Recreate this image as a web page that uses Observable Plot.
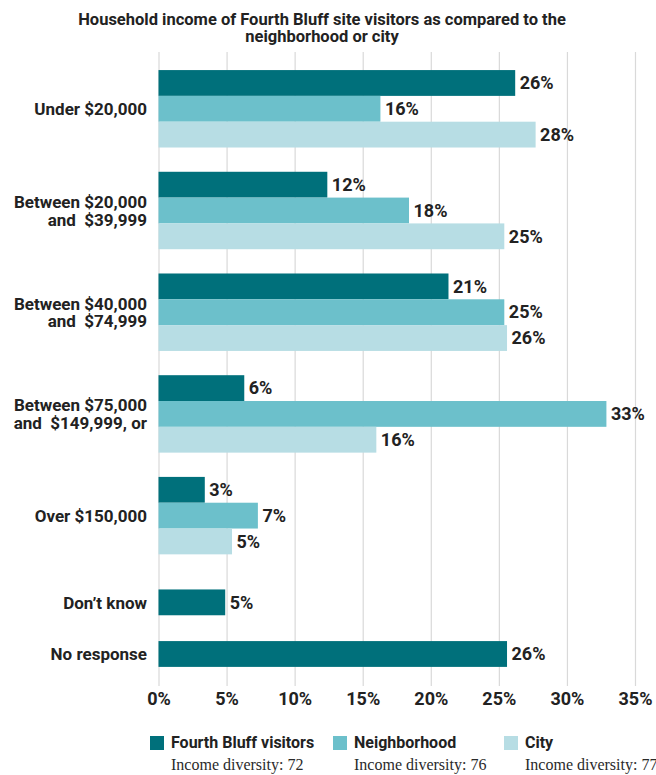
<!DOCTYPE html>
<html><head><meta charset="utf-8">
<script src="https://cdn.jsdelivr.net/npm/d3@7"></script>
<script src="https://cdn.jsdelivr.net/npm/@observablehq/plot@0.6"></script>
<style>
html,body{margin:0;padding:0;background:#fff;overflow:hidden;}
body{width:656px;height:775px;position:relative;font-family:Roboto, sans-serif;color:#222;}
#title{box-sizing:border-box;height:46px;padding:11px 12px 0 0;text-align:center;font-weight:700;font-size:16.5px;line-height:17px;color:#222;}
#chart svg{display:block;}
#legend{position:relative;height:55px;}
.item{position:absolute;top:16px;}
.sw{position:absolute;left:0;top:0;width:14px;height:14px;}
.lab{position:absolute;left:21px;top:-3px;white-space:nowrap;font-weight:700;font-size:16px;line-height:20px;color:#222;}
.sub{position:absolute;left:21px;top:19px;white-space:nowrap;font-family:"Liberation Serif",serif;font-size:16px;line-height:20px;color:#2a2a2a;}
</style></head><body>
<div id="title">Household income of Fourth Bluff site visitors as compared to the<br>neighborhood or city</div>
<div id="chart"></div>
<div id="legend"></div>
<script>
const categories = [
  "Under $20,000",
  "Between $20,000\nand  $39,999",
  "Between $40,000\nand  $74,999",
  "Between $75,000\nand  $149,999, or",
  "Over $150,000",
  "Don\u2019t know",
  "No response"
];
const seriesNames = ["Fourth Bluff visitors", "Neighborhood", "City"];
const visitors     = [26.2, 12.4, 21.3, 6.3, 3.4, 4.9, 25.6];
const neighborhood = [16.3, 18.4, 25.4, 32.9, 7.3, null, null];
const city         = [27.7, 25.4, 25.6, 16.0, 5.4, null, null];
const incomeDiversity = [72, 76, 77];
const xTicks = [0, 5, 10, 15, 20, 25, 30, 35];
const colors = ["#00707b", "#6cc0cb", "#b7dde4"];

const seriesValues = [visitors, neighborhood, city];
const rows = [], groups = [];
let pos = 0, prevN = 0;
categories.forEach((c, i) => {
  const present = seriesNames.map((s, k) => ({series: s, value: seriesValues[k][i]})).filter(d => d.value != null);
  const n = present.length;
  if (i > 0) pos += prevN > n ? 1.36 : (n === 1 ? 1.0 : 0.94);
  const start = pos;
  present.forEach(d => { rows.push({category: c, series: d.series, value: d.value, y1: pos, y2: pos + 1}); pos += 1; });
  groups.push({category: c, y: (start + pos) / 2});
  prevN = n;
});
const total = pos;

const plot = Plot.plot({
  width: 656, height: 674,
  marginTop: 6, marginBottom: 34, marginLeft: 158.5, marginRight: 21,
  style: {fontFamily: "Roboto", fontSize: "18px", fontWeight: 700, color: "#222", background: "#fff"},
  x: {domain: [0, 35], label: null},
  y: {domain: [-0.70, total + 0.74], reverse: true, axis: null},
  color: {domain: seriesNames, range: colors},
  marks: [
    Plot.gridX(xTicks, {stroke: "#d9d9d9", strokeOpacity: 1, strokeWidth: 1.2}),
    Plot.axisX(xTicks, {tickFormat: d => d + "%", tickSize: 0, tickPadding: 6, fontSize: 18, fontWeight: 700, fill: "#222", label: null}),
    Plot.rect(rows, {x1: 0, x2: "value", y1: "y1", y2: "y2", fill: "series"}),
    Plot.text(rows, {x: "value", y: d => (d.y1 + d.y2) / 2, text: d => Math.round(d.value) + "%", dx: 4, textAnchor: "start", fontWeight: 700, fontSize: 18, fill: "#222"}),
    Plot.text(groups, {x: 0, y: "y", text: "category", dx: -12, textAnchor: "end", fontWeight: 700, fontSize: 17, lineHeight: 1.04, fill: "#222"})
  ]
});
document.getElementById("chart").appendChild(plot);

const legendX = [150, 333, 504];
const legend = document.getElementById("legend");
seriesNames.forEach((s, i) => {
  const item = document.createElement("div");
  item.className = "item";
  item.style.left = legendX[i] + "px";
  item.innerHTML = `<div class="sw" style="background:${colors[i]}"></div><div class="lab">${s}</div><div class="sub">Income diversity: ${incomeDiversity[i]}</div>`;
  legend.appendChild(item);
});
</script>
</body></html>
